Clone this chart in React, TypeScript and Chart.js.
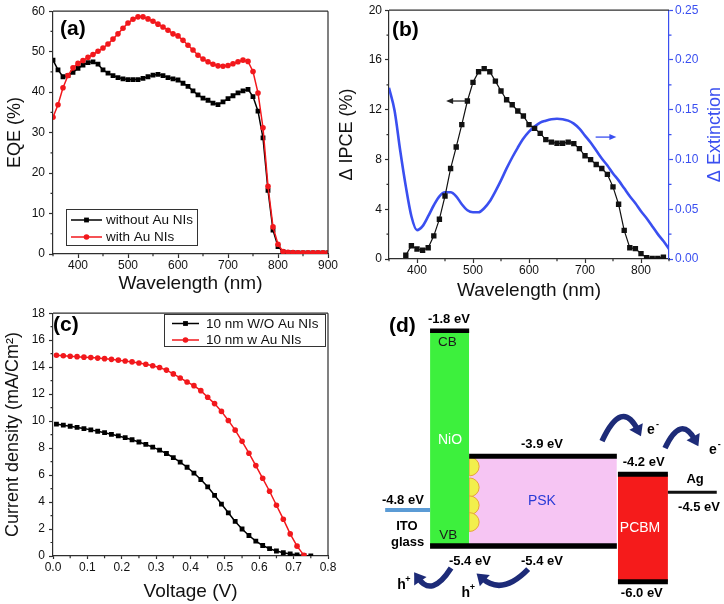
import React, { useEffect, useRef } from 'react';
import { Chart, registerables } from 'chart.js';

Chart.register(...registerables);

const FONT = '"Liberation Sans", Arial, Helvetica, sans-serif';
const AXIS = '#2e2e2e';
const TEXT = '#111111';
const RED = '#f2181c';
const BLUE = '#3a4ff0';
const NAVY = '#1d2b78';

// ---------------- (a) EQE ----------------
const eqeWavelength = [
  350, 360, 370, 380, 390, 400, 410, 420, 430, 440,
  450, 460, 470, 480, 490, 500, 510, 520, 530, 540,
  550, 560, 570, 580, 590, 600, 610, 620, 630, 640,
  650, 660, 670, 680, 690, 700, 710, 720, 730, 740,
  750, 760, 770, 780, 790, 800, 810, 820, 830, 840,
  850, 860, 870, 880, 890, 900,
];
const eqeWithout = [
  47.9, 45.5, 43.8, 44.1, 44.9, 45.9, 46.7, 47.3, 47.5, 46.9,
  45.5, 44.7, 44.1, 43.6, 43.3, 43.1, 43.1, 43.1, 43.4, 43.8,
  44.2, 44.4, 44.1, 43.6, 43.3, 43.0, 42.2, 41.4, 40.3, 39.3,
  38.5, 38.0, 37.3, 36.9, 37.6, 38.4, 39.1, 39.8, 40.3, 40.7,
  38.9, 35.3, 28.7, 15.7, 5.9, 1.8, 0.6, 0.4, 0.35, 0.3,
  0.3, 0.3, 0.3, 0.3, 0.3, 0.3,
];
const eqeWith = [
  33.8, 36.9, 41.1, 44.1, 46.0, 47.1, 47.8, 48.6, 49.3, 50.1,
  50.9, 51.9, 53.1, 54.4, 55.8, 57.1, 58.0, 58.6, 58.6, 58.1,
  57.5, 56.8, 56.1, 55.3, 54.4, 53.9, 52.8, 51.6, 50.4, 49.1,
  48.2, 47.5, 46.9, 46.5, 46.4, 46.6, 47.0, 47.5, 47.9, 47.6,
  45.1, 39.8, 31.2, 16.7, 6.7, 2.4, 0.6, 0.4, 0.35, 0.3,
  0.3, 0.3, 0.3, 0.3, 0.3, 0.3,
];
const eqeLabels = ['without Au NIs', 'with Au NIs'];
const eqeTicks = [400, 500, 600, 700, 800, 900];

// ---------------- (b) ΔIPCE and ΔExtinction ----------------
const ipceWavelength = [
  380, 390, 400, 410, 420, 430, 440, 450, 460, 470,
  480, 490, 500, 510, 520, 530, 540, 550, 560, 570,
  580, 590, 600, 610, 620, 630, 640, 650, 660, 670,
  680, 690, 700, 710, 720, 730, 740, 750, 760, 770,
  780, 790, 800, 810, 820, 830, 840,
];
const ipceDelta = [
  0.3, 1.07, 0.8, 0.7, 0.9, 1.86, 3.2, 5.06, 7.27, 9.0,
  10.8, 12.7, 14.2, 15.05, 15.3, 15.05, 14.3, 13.5, 12.8, 12.4,
  11.9, 11.5, 10.8, 10.5, 10.1, 9.6, 9.4, 9.3, 9.3, 9.4,
  9.27, 8.87, 8.3, 7.99, 7.6, 7.27, 6.8, 5.8, 4.4, 2.3,
  0.9, 0.83, 0.43, 0.1, 0.05, 0.05, 0.15,
];
const extWavelength = [
  350, 360, 370, 380, 390, 400, 410, 420, 430, 440,
  450, 460, 470, 480, 490, 500, 510, 520, 530, 540,
  550, 560, 570, 580, 590, 600, 610, 620, 630, 640,
  650, 660, 670, 680, 690, 700, 710, 720, 730, 740,
  750, 760, 770, 780, 790, 800, 810, 820, 830, 840,
  850,
];
const extDelta = [
  0.172, 0.149, 0.109, 0.073, 0.043, 0.029, 0.033, 0.043, 0.054, 0.063,
  0.067, 0.067, 0.063, 0.055, 0.049, 0.047, 0.047, 0.051, 0.058, 0.068,
  0.079, 0.091, 0.102, 0.112, 0.121, 0.128, 0.133, 0.137, 0.139, 0.1405,
  0.141, 0.1405, 0.139, 0.136, 0.131, 0.124, 0.117, 0.109, 0.101, 0.094,
  0.086, 0.079, 0.071, 0.063, 0.056, 0.048, 0.041, 0.033, 0.025, 0.018,
  0.010,
];
const ipceTicks = [400, 500, 600, 700, 800];
// arrows pointing at each curve's axis
const ipceArrowX = [490, 452]; // from, to (nm)
const ipceArrowY = 12.7; // %
const extArrowX = [719, 756];
const extArrowY = 0.1225;

// ---------------- (c) J-V ----------------
const jvVoltageWithout = [
  0.01, 0.03, 0.05, 0.07, 0.09, 0.11, 0.13, 0.15, 0.17, 0.19,
  0.21, 0.23, 0.25, 0.27, 0.29, 0.31, 0.33, 0.35, 0.37, 0.39,
  0.41, 0.43, 0.45, 0.47, 0.49, 0.51, 0.53, 0.55, 0.57, 0.59,
  0.61, 0.63, 0.65, 0.67, 0.69, 0.71, 0.73, 0.75,
];
const jvCurrentWithout = [
  9.78, 9.7, 9.62, 9.53, 9.45, 9.35, 9.25, 9.14, 9.02, 8.9,
  8.77, 8.62, 8.45, 8.27, 8.07, 7.85, 7.6, 7.3, 6.96, 6.58,
  6.15, 5.67, 5.13, 4.5, 3.85, 3.2, 2.56, 2.0, 1.52, 1.1,
  0.78, 0.54, 0.37, 0.24, 0.15, 0.09, 0.04, 0.0,
];
const jvVoltageWith = [
  0.01, 0.03, 0.05, 0.07, 0.09, 0.11, 0.13, 0.15, 0.17, 0.19,
  0.21, 0.23, 0.25, 0.27, 0.29, 0.31, 0.33, 0.35, 0.37, 0.39,
  0.41, 0.43, 0.45, 0.47, 0.49, 0.51, 0.53, 0.55, 0.57, 0.59,
  0.61, 0.63, 0.65, 0.67, 0.69, 0.71, 0.73,
];
const jvCurrentWith = [
  14.88, 14.84, 14.81, 14.78, 14.74, 14.71, 14.67, 14.63, 14.58, 14.52,
  14.46, 14.39, 14.31, 14.21, 14.1, 13.97, 13.78, 13.5, 13.2, 12.9,
  12.63, 12.26, 11.77, 11.3, 10.72, 10.05, 9.33, 8.5, 7.62, 6.7,
  5.76, 4.8, 3.76, 2.73, 1.64, 0.73, 0.05,
];
const jvLabels = ['10 nm W/O Au NIs', '10 nm w Au NIs'];

// ---------------- (d) energy level diagram ----------------
// horizontal extents in diagram units (0-100), energies in eV
const bandNames = ['NiO', 'PSK', 'PCBM'];
const bandLeft = [18.8, 29.6, 70.7];
const bandRight = [29.6, 70.4, 84.5];
const bandTop = [-1.8, -3.9, -4.2];
const bandBottom = [-5.4, -5.4, -6.0];

const levelNames = ['NiO CB', 'VB', 'PSK CB', 'PCBM top', 'PCBM bottom', 'Ag', 'ITO'];
const levelLeft = [18.8, 18.8, 29.6, 70.7, 70.7, 84.5, 6.4];
const levelRight = [29.6, 70.4, 70.4, 84.5, 84.5, 98.0, 18.8];
const levelEnergy = [-1.8, -5.4, -3.9, -4.2, -6.0, -4.5, -4.8];

// text: [label, x (units), energy (eV), pixel offset, kind]
const diagramTexts: [string, number, number, number, string][] = [
  ['-1.8 eV', 24.0, -1.8, -11, 'level'],
  ['CB', 23.6, -1.8, 12, 'band'],
  ['NiO', 24.3, -3.63, 0, 'white'],
  ['VB', 23.8, -5.4, -11, 'band'],
  ['-5.4 eV', 29.8, -5.4, 15, 'level'],
  ['-5.4 eV', 49.7, -5.4, 15, 'level'],
  ['-3.9 eV', 49.7, -3.9, -12, 'level'],
  ['PSK', 49.7, -4.65, 0, 'psk'],
  ['-4.2 eV', 77.8, -4.2, -12, 'level'],
  ['PCBM', 76.8, -5.1, 0, 'white'],
  ['-6.0 eV', 77.3, -6.0, 12, 'level'],
  ['Ag', 92.0, -4.5, -13, 'level'],
  ['-4.5 eV', 93.1, -4.5, 15, 'level'],
  ['-4.8 eV', 11.3, -4.8, -10, 'level'],
  ['ITO', 12.4, -4.8, 16, 'level'],
  ['glass', 12.6, -4.8, 32, 'level'],
];
// carrier labels: [base, superscript, x, energy]
const carrierTexts: [string, string, number, number][] = [
  ['e', '-', 79.8, -3.467],
  ['e', '-', 96.9, -3.801],
  ['h', '+', 10.9, -6.058],
  ['h', '+', 28.7, -6.187],
];
// curved arrows: start, control, end  (units, eV)
const arrowStart: [number, number][] = [[66.3, -3.645], [83.7, -3.763], [24.6, -5.769], [45.9, -5.786]];
const arrowVia: [number, number][] = [[71.8, -2.926], [88.1, -3.194], [19.3, -6.271], [38.7, -6.237]];
const arrowEnd: [number, number][] = [[76.2, -3.462], [92.0, -3.629], [15.5, -5.936], [33.1, -5.936]];
// interface nanoparticles (energies of bump centres)
const bumpEnergy = [-4.07, -4.42, -4.72, -5.0];

// ---------------- styling helpers ----------------
const bandColor = ['#3df03d', '#f6c5f3', '#f51b1b'];
const levelColor = ['#000', '#000', '#000', '#000', '#000', '#111', '#5b9bd5'];
const levelWidth = [4.5, 5.5, 5, 5, 5, 3, 4];

function xScale(o: any) {
  return {
    type: 'linear',
    min: o.min,
    max: o.max,
    afterBuildTicks: (s: any) => {
      if (o.values) s.ticks = o.values.map((v: number) => ({ value: v }));
    },
    ticks: {
      stepSize: o.step,
      includeBounds: false,
      font: { family: FONT, size: 12 },
      color: TEXT,
      padding: o.tickPad,
      maxRotation: 0,
      autoSkip: false,
      callback: o.fmt,
    },
    grid: {
      display: true,
      drawOnChartArea: false,
      drawTicks: true,
      tickLength: o.tickLength || 4,
      color: AXIS,
      tickColor: AXIS,
      tickWidth: 1.2,
    },
    border: { display: true, color: AXIS, width: 1.2 },
    title: { display: true, text: o.title, font: { family: FONT, size: 19 }, color: TEXT, padding: { top: 0, bottom: o.titlePad } },
    afterFit: (s: any) => {
      s.height = o.height;
    },
  };
}

function yScale(o: any) {
  const col = o.color || AXIS;
  return {
    type: 'linear',
    position: o.position || 'left',
    min: o.min,
    max: o.max,
    ticks: {
      stepSize: o.step,
      font: { family: FONT, size: 12 },
      color: o.color || TEXT,
      padding: o.tickPad,
      callback: o.fmt,
    },
    grid: { display: true, drawOnChartArea: false, drawTicks: true, tickLength: 4, color: col, tickColor: col, tickWidth: 1.2 },
    border: { display: true, color: col, width: 1.2 },
    title: {
      display: !!o.title,
      text: o.title,
      font: { family: FONT, size: 18 },
      color: o.color || TEXT,
      padding: { top: o.titlePad || 0, bottom: 0 },
    },
    afterFit: (s: any) => {
      s.width = o.width;
    },
  };
}

function framePlugin(id: string, right: boolean) {
  return {
    id,
    afterDraw(chart: any) {
      const { ctx, chartArea: a } = chart;
      ctx.save();
      ctx.strokeStyle = AXIS;
      ctx.lineWidth = 1.2;
      ctx.beginPath();
      ctx.moveTo(a.left, a.top);
      ctx.lineTo(a.right, a.top);
      if (right) {
        ctx.moveTo(a.right, a.top);
        ctx.lineTo(a.right, a.bottom);
      }
      ctx.stroke();
      for (const sc of Object.values(chart.scales) as any[]) {
        if (!sc.options.display) continue;
        const vals = sc.ticks.map((t: any) => t.value);
        if (vals.length < 2) continue;
        const step = vals[1] - vals[0];
        const mids = [vals[0] - step / 2, ...vals.map((v: number) => v + step / 2)].filter(
          (v: number) => v >= sc.min - 1e-9 && v <= sc.max + 1e-9,
        );
        ctx.strokeStyle = sc.options.border.color;
        ctx.beginPath();
        for (const m of mids) {
          const p = sc.getPixelForValue(m);
          if (sc.position === 'bottom') {
            ctx.moveTo(p, sc.top);
            ctx.lineTo(p, sc.top + 2.2);
          } else if (sc.position === 'left') {
            ctx.moveTo(sc.right, p);
            ctx.lineTo(sc.right - 2.5, p);
          } else {
            ctx.moveTo(sc.left, p);
            ctx.lineTo(sc.left + 2.5, p);
          }
        }
        ctx.stroke();
      }
      ctx.restore();
    },
  };
}

function panelLabel(id: string, text: string, x: number, y: number) {
  return {
    id,
    afterDraw(chart: any) {
      const ctx = chart.ctx;
      ctx.save();
      ctx.font = `bold 21px ${FONT}`;
      ctx.fillStyle = '#000';
      ctx.textAlign = 'left';
      ctx.textBaseline = 'middle';
      ctx.fillText(text, x, y);
      ctx.restore();
    },
  };
}

function drawMarker(ctx: any, style: string, x: number, y: number, r: number, color: string) {
  ctx.fillStyle = color;
  if (style === 'rect') {
    const s = r * Math.SQRT1_2;
    ctx.fillRect(x - s, y - s, 2 * s, 2 * s);
  } else {
    ctx.beginPath();
    ctx.arc(x, y, r, 0, Math.PI * 2);
    ctx.fill();
  }
}

function legendPlugin(id: string, box: number[], rowY: number[], lineX: number[], textX: number) {
  return {
    id,
    afterDatasetsDraw(chart: any) {
      const ctx = chart.ctx;
      const [bx, by, bw, bh] = box;
      ctx.save();
      ctx.fillStyle = '#fff';
      ctx.fillRect(bx, by, bw, bh);
      ctx.strokeStyle = '#333';
      ctx.lineWidth = 1;
      ctx.strokeRect(bx + 0.5, by + 0.5, bw, bh);
      chart.data.datasets.forEach((ds: any, i: number) => {
        const y = rowY[i];
        ctx.strokeStyle = ds.borderColor;
        ctx.lineWidth = ds.borderWidth;
        ctx.beginPath();
        ctx.moveTo(lineX[0], y);
        ctx.lineTo(lineX[1], y);
        ctx.stroke();
        drawMarker(ctx, ds.pointStyle, (lineX[0] + lineX[1]) / 2, y, ds.pointRadius, ds.borderColor);
        ctx.font = `13.5px ${FONT}`;
        ctx.fillStyle = TEXT;
        ctx.textAlign = 'left';
        ctx.textBaseline = 'middle';
        ctx.fillText(ds.label, textX, y + 0.5);
      });
      ctx.restore();
    },
  };
}

function straightArrow(ctx: any, x0: number, y0: number, x1: number, y1: number, color: string) {
  const ang = Math.atan2(y1 - y0, x1 - x0);
  ctx.strokeStyle = color;
  ctx.fillStyle = color;
  ctx.lineWidth = 1.3;
  ctx.beginPath();
  ctx.moveTo(x0, y0);
  ctx.lineTo(x1 - Math.cos(ang) * 4, y1 - Math.sin(ang) * 4);
  ctx.stroke();
  const L = 7;
  const W = 3;
  ctx.beginPath();
  ctx.moveTo(x1, y1);
  ctx.lineTo(x1 - Math.cos(ang) * L - Math.sin(ang) * W, y1 - Math.sin(ang) * L + Math.cos(ang) * W);
  ctx.lineTo(x1 - Math.cos(ang) * L + Math.sin(ang) * W, y1 - Math.sin(ang) * L - Math.cos(ang) * W);
  ctx.closePath();
  ctx.fill();
}

function curvedArrow(ctx: any, p0: number[], c: number[], p1: number[], color: string) {
  ctx.strokeStyle = color;
  ctx.fillStyle = color;
  ctx.lineWidth = 5.5;
  ctx.lineCap = 'butt';
  ctx.beginPath();
  ctx.moveTo(p0[0], p0[1]);
  ctx.quadraticCurveTo(c[0], c[1], p1[0], p1[1]);
  ctx.stroke();
  const dx = p1[0] - c[0];
  const dy = p1[1] - c[1];
  const n = Math.hypot(dx, dy) || 1;
  const ux = dx / n;
  const uy = dy / n;
  const L = 11;
  const W = 7.5;
  const tip = [p1[0] + ux * 7, p1[1] + uy * 7];
  const base = [tip[0] - ux * L, tip[1] - uy * L];
  ctx.beginPath();
  ctx.moveTo(tip[0], tip[1]);
  ctx.lineTo(base[0] - uy * W, base[1] + ux * W);
  ctx.lineTo(base[0] + uy * W, base[1] - ux * W);
  ctx.closePath();
  ctx.fill();
}

// ---------------- chart configs ----------------
function configA(): any {
  return {
    type: 'line',
    data: {
      datasets: [
        {
          label: eqeLabels[0],
          data: eqeWavelength.map((x, i) => ({ x, y: eqeWithout[i] })),
          borderColor: '#000',
          backgroundColor: '#000',
          borderWidth: 1.5,
          pointStyle: 'rect',
          pointRadius: 3.4,
          pointBorderWidth: 0,
          order: 1,
        },
        {
          label: eqeLabels[1],
          data: eqeWavelength.map((x, i) => ({ x, y: eqeWith[i] })),
          borderColor: RED,
          backgroundColor: RED,
          borderWidth: 1.5,
          pointStyle: 'circle',
          pointRadius: 2.8,
          pointBorderWidth: 0,
          order: 0,
        },
      ],
    },
    options: {
      animation: false,
      responsive: false,
      layout: { padding: { top: 9, right: 34, left: 0, bottom: 0 } },
      plugins: { legend: { display: false }, tooltip: { enabled: false } },
      scales: {
        x: xScale({ min: 350, max: 900, step: 100, values: eqeTicks, title: 'Wavelength (nm)', height: 48, titlePad: 7, tickPad: 0 }),
        y: yScale({ min: 0, max: 60, step: 10, title: 'EQE (%)', width: 53, titlePad: 4, tickPad: 4 }),
      },
    },
    plugins: [
      framePlugin('frameA', true),
      legendPlugin('legendA', [66, 209, 131, 36], [220, 237], [71, 102], 106),
      panelLabel('labelA', '(a)', 60, 29),
    ],
  };
}

function configB(): any {
  const extras = {
    id: 'extrasB',
    afterDatasetsDraw(chart: any) {
      const { ctx, scales } = chart;
      ctx.save();
      straightArrow(
        ctx,
        scales.x.getPixelForValue(ipceArrowX[0]),
        scales.y.getPixelForValue(ipceArrowY),
        scales.x.getPixelForValue(ipceArrowX[1]),
        scales.y.getPixelForValue(ipceArrowY),
        '#222',
      );
      straightArrow(
        ctx,
        scales.x.getPixelForValue(extArrowX[0]),
        scales.y2.getPixelForValue(extArrowY),
        scales.x.getPixelForValue(extArrowX[1]),
        scales.y2.getPixelForValue(extArrowY),
        BLUE,
      );
      const a = chart.chartArea;
      ctx.translate(chart.width - 8.5, (a.top + a.bottom) / 2);
      ctx.rotate(-Math.PI / 2);
      ctx.font = `18px ${FONT}`;
      ctx.fillStyle = BLUE;
      ctx.textAlign = 'center';
      ctx.textBaseline = 'middle';
      ctx.fillText('Δ Extinction', 0, 0);
      ctx.restore();
    },
  };
  return {
    type: 'line',
    data: {
      datasets: [
        {
          label: 'Δ IPCE',
          data: ipceWavelength.map((x, i) => ({ x, y: ipceDelta[i] })),
          borderColor: '#111',
          backgroundColor: '#111',
          borderWidth: 1.2,
          pointStyle: 'rect',
          pointRadius: 3.8,
          pointBorderWidth: 0,
          yAxisID: 'y',
          order: 0,
        },
        {
          label: 'Δ Extinction',
          data: extWavelength.map((x, i) => ({ x, y: extDelta[i] })),
          borderColor: BLUE,
          borderWidth: 2.6,
          pointRadius: 0,
          tension: 0.4,
          cubicInterpolationMode: 'monotone',
          yAxisID: 'y2',
          order: 1,
        },
      ],
    },
    options: {
      animation: false,
      responsive: false,
      layout: { padding: { top: 9, right: 0, left: 0, bottom: 0 } },
      plugins: { legend: { display: false }, tooltip: { enabled: false } },
      scales: {
        x: xScale({ min: 350, max: 850, step: 100, values: ipceTicks, title: 'Wavelength (nm)', height: 43, titlePad: 0, tickPad: 0 }),
        y: yScale({ min: 0, max: 20, step: 4, title: 'Δ IPCE (%)', width: 54, titlePad: 1, tickPad: 3 }),
        y2: yScale({
          position: 'right',
          min: 0,
          max: 0.25,
          step: 0.05,
          width: 55,
          tickPad: 2,
          color: BLUE,
          fmt: (v: number) => Number(v).toFixed(2),
        }),
      },
    },
    plugins: [framePlugin('frameB', false), extras, panelLabel('labelB', '(b)', 57, 30)],
  };
}

function configC(): any {
  return {
    type: 'line',
    data: {
      datasets: [
        {
          label: jvLabels[0],
          data: jvVoltageWithout.map((x, i) => ({ x, y: jvCurrentWithout[i] })),
          borderColor: '#000',
          backgroundColor: '#000',
          borderWidth: 1.5,
          pointStyle: 'rect',
          pointRadius: 3.4,
          pointBorderWidth: 0,
          order: 1,
        },
        {
          label: jvLabels[1],
          data: jvVoltageWith.map((x, i) => ({ x, y: jvCurrentWith[i] })),
          borderColor: RED,
          backgroundColor: RED,
          borderWidth: 1.5,
          pointStyle: 'circle',
          pointRadius: 2.8,
          pointBorderWidth: 0,
          order: 0,
        },
      ],
    },
    options: {
      animation: false,
      responsive: false,
      layout: { padding: { top: 8, right: 34, left: 0, bottom: 0 } },
      plugins: { legend: { display: false }, tooltip: { enabled: false } },
      scales: {
        x: xScale({
          min: 0,
          max: 0.8,
          step: 0.1,
          title: 'Voltage (V)',
          height: 48,
          titlePad: 1,
          tickPad: 1,
          tickLength: 3,
          fmt: (v: number) => Number(v).toFixed(1),
        }),
        y: yScale({ min: 0, max: 18, step: 2, title: 'Current density (mA/Cm²)', width: 53, titlePad: 2, tickPad: 4 }),
      },
    },
    plugins: [
      framePlugin('frameC', true),
      legendPlugin('legendC', [164, 12, 161, 32], [21.5, 38], [172, 199], 206),
      panelLabel('labelC', '(c)', 53, 23),
    ],
  };
}

function configD(): any {
  const datasets: any[] = [];
  levelNames.forEach((name, i) => {
    datasets.push({
      label: name,
      data: [
        { x: levelLeft[i], y: levelEnergy[i] },
        { x: levelRight[i], y: levelEnergy[i] },
      ],
      borderColor: levelColor[i],
      borderWidth: levelWidth[i],
      borderCapStyle: 'butt',
      pointRadius: 0,
      fill: false,
    });
  });
  const pskIndex = datasets.length + 1;
  bandNames.forEach((name, i) => {
    datasets.push({
      label: name,
      data: [
        { x: bandLeft[i], y: bandTop[i] },
        { x: bandRight[i], y: bandTop[i] },
      ],
      borderWidth: 0,
      borderColor: 'rgba(0,0,0,0)',
      backgroundColor: bandColor[i],
      pointRadius: 0,
      fill: { value: bandBottom[i] },
    });
  });
  const decor = {
    id: 'decorD',
    afterDatasetDraw(chart: any, args: any) {
      if (args.index !== pskIndex) return;
      const { ctx, scales } = chart;
      const x0 = scales.x.getPixelForValue(bandLeft[1]);
      ctx.save();
      bumpEnergy.forEach((e) => {
        const yc = scales.y.getPixelForValue(e);
        ctx.beginPath();
        ctx.ellipse(x0, yc, 10, 9.5, 0, -Math.PI / 2, Math.PI / 2);
        ctx.closePath();
        ctx.fillStyle = '#f2ef4c';
        ctx.fill();
        ctx.strokeStyle = '#e5a53c';
        ctx.lineWidth = 1;
        ctx.stroke();
      });
      ctx.restore();
    },
    afterDatasetsDraw(chart: any) {
      const { ctx, scales } = chart;
      const px = (x: number) => scales.x.getPixelForValue(x);
      const py = (v: number) => scales.y.getPixelForValue(v);
      ctx.save();
      ctx.textAlign = 'center';
      ctx.textBaseline = 'middle';
      diagramTexts.forEach(([t, x, e, dy, kind]) => {
        if (kind === 'level') {
          ctx.font = `bold 13px ${FONT}`;
          ctx.fillStyle = '#000';
        } else if (kind === 'band') {
          ctx.font = `13.5px ${FONT}`;
          ctx.fillStyle = '#1a1a1a';
        } else if (kind === 'white') {
          ctx.font = `14px ${FONT}`;
          ctx.fillStyle = '#ffffff';
        } else {
          ctx.font = `14px ${FONT}`;
          ctx.fillStyle = '#2a3bd6';
        }
        ctx.fillText(t, px(x), py(e) + dy);
      });
      carrierTexts.forEach(([b, s, x, e]) => {
        ctx.font = `bold 14px ${FONT}`;
        ctx.fillStyle = '#000';
        ctx.fillText(b, px(x), py(e));
        ctx.font = `bold 9px ${FONT}`;
        ctx.fillText(s, px(x) + 6.5, py(e) - 6);
      });
      arrowStart.forEach((p, i) => {
        curvedArrow(
          ctx,
          [px(p[0]), py(p[1])],
          [px(arrowVia[i][0]), py(arrowVia[i][1])],
          [px(arrowEnd[i][0]), py(arrowEnd[i][1])],
          NAVY,
        );
      });
      ctx.restore();
    },
  };
  return {
    type: 'line',
    data: { datasets },
    options: {
      animation: false,
      responsive: false,
      layout: { padding: 0 },
      plugins: { legend: { display: false }, tooltip: { enabled: false } },
      elements: { line: { tension: 0 } },
      scales: {
        x: { type: 'linear', min: 0, max: 100, display: false },
        y: { type: 'linear', min: -6.37, max: -1.32, display: false },
      },
    },
    plugins: [decor, panelLabel('labelD', '(d)', 27, 24)],
  };
}

export default function App() {
  const refA = useRef<HTMLCanvasElement>(null);
  const refB = useRef<HTMLCanvasElement>(null);
  const refC = useRef<HTMLCanvasElement>(null);
  const refD = useRef<HTMLCanvasElement>(null);

  useEffect(() => {
    document.body.style.margin = '0';
    const charts = [
      new Chart(refA.current as HTMLCanvasElement, configA()),
      new Chart(refB.current as HTMLCanvasElement, configB()),
      new Chart(refC.current as HTMLCanvasElement, configC()),
      new Chart(refD.current as HTMLCanvasElement, configD()),
    ];
    return () => charts.forEach((c) => c.destroy());
  }, []);

  const abs = (left: number, top: number, w: number, h: number): any => ({
    position: 'absolute',
    left,
    top,
    width: w,
    height: h,
  });

  return (
    <div style={{ position: 'absolute', left: 0, top: 0, width: 724, height: 604, background: '#fff', overflow: 'hidden' }}>
      <canvas ref={refA} width={362} height={302} style={abs(0, 0, 362, 302)} />
      <canvas ref={refB} width={389} height={302} style={abs(335, 0, 389, 302)} />
      <canvas ref={refC} width={362} height={302} style={abs(0, 302, 362, 302)} />
      <canvas ref={refD} width={362} height={302} style={abs(362, 302, 362, 302)} />
    </div>
  );
}
